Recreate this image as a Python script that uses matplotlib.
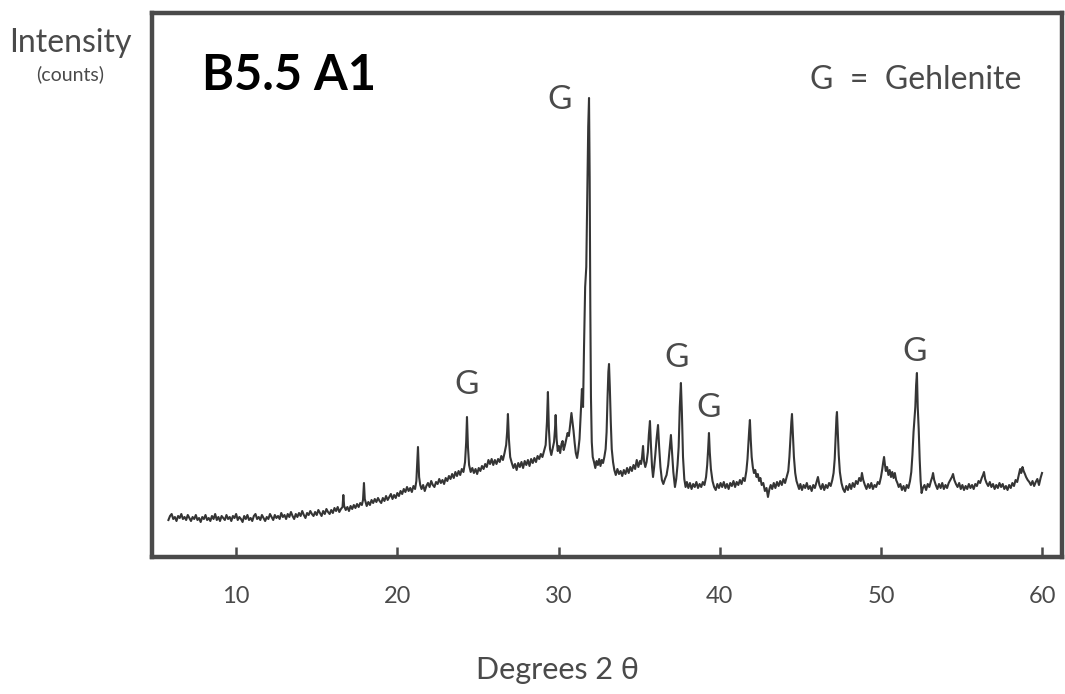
import matplotlib
matplotlib.use("Agg")
import matplotlib.pyplot as plt

# Diffractogram of sample B5.5 A1: (2-theta in degrees, intensity in counts)
trace_low = [
    (5.8, 37), (5.9, 41), (6.0, 43), (6.1, 38), (6.2, 40), (6.3, 36), (6.4, 41),
    (6.5, 39), (6.6, 43), (6.7, 38), (6.8, 40), (6.9, 37), (7.0, 42), (7.1, 39),
    (7.2, 36), (7.3, 40), (7.4, 38), (7.5, 42), (7.6, 37), (7.7, 39), (7.8, 35),
    (7.9, 40), (8.0, 38), (8.1, 42), (8.2, 37), (8.3, 39), (8.4, 36), (8.5, 41),
    (8.6, 38), (8.7, 43), (8.8, 37), (8.9, 40), (9.0, 36), (9.1, 41), (9.2, 39),
    (9.3, 37), (9.4, 42), (9.5, 38), (9.6, 40), (9.7, 36), (9.8, 41), (9.9, 39),
    (10.0, 43), (10.1, 37), (10.2, 40), (10.3, 38), (10.4, 35), (10.5, 41),
    (10.6, 38), (10.7, 42), (10.8, 37), (10.9, 39), (11.0, 36), (11.1, 41),
    (11.2, 43), (11.3, 38), (11.4, 40), (11.5, 37), (11.6, 42), (11.7, 39),
    (11.8, 36), (11.9, 40), (12.0, 38), (12.1, 43), (12.2, 40), (12.3, 37),
    (12.4, 42), (12.5, 39), (12.6, 41), (12.7, 38), (12.8, 44), (12.9, 40),
    (13.0, 42), (13.1, 38), (13.2, 43), (13.3, 40), (13.4, 45), (13.5, 41),
    (13.6, 38), (13.7, 43), (13.8, 40), (13.9, 44), (14.0, 41), (14.1, 46),
    (14.2, 42), (14.3, 39), (14.4, 44), (14.5, 42), (14.6, 46), (14.7, 43),
    (14.8, 41), (14.9, 45), (15.0, 42), (15.1, 47), (15.2, 44), (15.3, 41),
    (15.4, 46), (15.5, 43), (15.6, 48), (15.7, 45), (15.8, 43), (15.9, 47),
    (16.0, 44), (16.1, 49), (16.2, 46), (16.3, 50), (16.4, 45), (16.5, 48),
    (16.6, 50), (16.65, 62), (16.7, 51), (16.8, 47), (16.9, 50), (17.0, 46),
    (17.1, 51), (17.2, 48), (17.3, 52), (17.4, 49), (17.5, 53), (17.6, 50),
    (17.7, 54), (17.8, 52), (17.87, 57), (17.93, 74), (17.98, 58), (18.05, 54),
    (18.1, 51), (18.2, 55), (18.3, 52), (18.4, 57), (18.5, 54), (18.6, 58),
    (18.7, 55), (18.8, 59), (18.9, 56), (19.0, 54), (19.1, 59), (19.2, 56),
    (19.3, 61), (19.4, 57), (19.5, 60), (19.6, 63), (19.7, 58), (19.8, 62),
    (19.9, 59), (20.0, 64), (20.1, 61), (20.2, 66), (20.3, 63), (20.4, 68),
    (20.5, 65), (20.6, 70), (20.7, 66), (20.8, 69), (20.9, 65), (21.0, 71),
    (21.1, 68), (21.18, 76), (21.28, 110), (21.35, 80), (21.42, 72), (21.5, 68),
    (21.6, 72), (21.7, 66), (21.8, 71), (21.9, 74), (22.0, 70), (22.1, 76),
    (22.2, 72), (22.3, 70), (22.4, 75), (22.5, 73), (22.6, 78), (22.7, 74),
    (22.8, 77), (22.9, 73), (23.0, 79), (23.1, 76), (23.2, 81), (23.3, 78),
    (23.4, 83), (23.5, 79), (23.6, 85), (23.7, 81), (23.8, 86), (23.9, 82),
    (24.0, 88), (24.1, 85), (24.2, 95), (24.27, 115), (24.32, 140), (24.38, 110),
    (24.45, 92), (24.55, 85), (24.65, 89), (24.75, 84), (24.85, 88), (24.95, 83),
]

trace_mid = [
    (25.05, 89), (25.15, 86), (25.25, 91), (25.35, 88), (25.45, 93), (25.55, 90),
    (25.65, 97), (25.75, 93), (25.85, 98), (25.95, 92), (26.05, 97), (26.15, 93),
    (26.25, 98), (26.35, 95), (26.45, 101), (26.55, 97), (26.65, 104), (26.75, 112),
    (26.81, 125), (26.86, 143), (26.92, 118), (27.0, 100), (27.1, 94), (27.2, 89),
    (27.3, 93), (27.4, 87), (27.5, 94), (27.6, 90), (27.7, 95), (27.8, 89),
    (27.9, 96), (28.0, 92), (28.1, 97), (28.2, 91), (28.3, 98), (28.4, 94),
    (28.5, 99), (28.6, 95), (28.7, 101), (28.8, 98), (28.9, 103), (29.0, 100),
    (29.1, 106), (29.2, 112), (29.28, 135), (29.34, 165), (29.4, 128), (29.47, 108),
    (29.55, 102), (29.63, 108), (29.72, 115), (29.78, 128), (29.82, 142), (29.88, 118),
    (29.95, 106), (30.02, 111), (30.1, 104), (30.18, 113), (30.25, 116), (30.32, 107),
    (30.4, 112), (30.48, 118), (30.56, 124), (30.64, 121), (30.72, 132), (30.8, 144),
    (30.86, 136), (30.93, 126), (31.0, 114), (31.07, 104), (31.15, 99), (31.22, 106),
    (31.3, 118), (31.38, 145), (31.45, 168), (31.52, 150), (31.58, 210), (31.65, 270),
    (31.72, 290), (31.78, 360), (31.84, 430), (31.89, 459), (31.93, 380), (31.97, 250),
    (32.01, 160), (32.06, 115), (32.12, 100), (32.2, 95), (32.28, 89), (32.36, 96),
    (32.44, 92), (32.52, 98), (32.6, 91), (32.68, 97), (32.76, 94), (32.84, 100),
    (32.92, 108), (32.98, 125), (33.04, 160), (33.09, 185), (33.13, 193), (33.18, 170),
    (33.24, 135), (33.3, 108), (33.38, 95), (33.46, 87), (33.55, 82), (33.65, 88),
    (33.75, 83), (33.85, 86), (33.95, 81), (34.05, 87), (34.15, 83), (34.25, 89),
    (34.35, 84), (34.45, 90), (34.55, 86), (34.65, 92), (34.75, 88), (34.85, 97),
    (34.95, 90), (35.05, 96), (35.12, 93), (35.18, 100), (35.24, 111), (35.3, 96),
    (35.38, 90), (35.46, 95), (35.54, 105), (35.6, 122), (35.67, 136), (35.73, 112),
    (35.8, 90), (35.86, 80), (35.93, 90), (36.0, 102), (36.08, 118), (36.17, 132),
    (36.24, 110), (36.32, 90), (36.41, 77), (36.5, 73), (36.6, 78), (36.7, 82),
    (36.8, 92), (36.9, 110), (36.97, 122), (37.04, 105), (37.12, 85), (37.22, 70),
    (37.3, 78), (37.38, 92), (37.45, 110), (37.52, 150), (37.59, 174), (37.65, 145),
    (37.72, 100), (37.8, 78), (37.88, 70), (37.96, 75), (38.05, 69), (38.15, 74),
    (38.25, 68), (38.35, 73), (38.45, 70), (38.55, 75), (38.65, 69), (38.75, 73),
    (38.85, 70), (38.95, 75), (39.05, 72), (39.15, 80), (39.22, 92), (39.28, 108),
    (39.33, 124), (39.38, 105), (39.45, 88), (39.55, 76), (39.65, 70), (39.75, 67),
    (39.85, 73), (39.95, 69),
]

trace_high = [
    (40.05, 74), (40.15, 70), (40.25, 75), (40.35, 69), (40.45, 73), (40.55, 68),
    (40.65, 74), (40.75, 71), (40.85, 76), (40.95, 70), (41.05, 75), (41.15, 72),
    (41.25, 77), (41.35, 73), (41.45, 79), (41.55, 76), (41.65, 86), (41.72, 98),
    (41.78, 115), (41.83, 128), (41.87, 137), (41.92, 118), (41.98, 100), (42.05, 90),
    (42.12, 84), (42.2, 87), (42.28, 80), (42.36, 83), (42.44, 76), (42.52, 79),
    (42.6, 72), (42.7, 74), (42.8, 66), (42.9, 69), (42.99, 60), (43.08, 68),
    (43.16, 72), (43.25, 68), (43.35, 74), (43.45, 69), (43.55, 75), (43.65, 71),
    (43.75, 76), (43.85, 72), (43.95, 78), (44.05, 74), (44.15, 80), (44.25, 86),
    (44.32, 100), (44.38, 118), (44.44, 135), (44.48, 143), (44.53, 125), (44.6, 100),
    (44.68, 84), (44.76, 76), (44.84, 72), (44.92, 68), (45.0, 73), (45.1, 67),
    (45.2, 72), (45.3, 69), (45.4, 74), (45.5, 68), (45.6, 71), (45.7, 66),
    (45.8, 72), (45.9, 69), (46.0, 75), (46.09, 80), (46.18, 72), (46.28, 68),
    (46.38, 73), (46.48, 67), (46.58, 72), (46.68, 69), (46.78, 74), (46.88, 71),
    (46.98, 77), (47.06, 84), (47.13, 98), (47.19, 122), (47.24, 140), (47.27, 145),
    (47.32, 125), (47.38, 102), (47.45, 85), (47.55, 74), (47.65, 68), (47.75, 65),
    (47.85, 71), (47.95, 67), (48.05, 73), (48.15, 68), (48.25, 74), (48.35, 70),
    (48.45, 76), (48.55, 73), (48.65, 79), (48.75, 76), (48.82, 84), (48.9, 77),
    (49.0, 72), (49.1, 68), (49.2, 73), (49.3, 69), (49.4, 74), (49.5, 68),
    (49.6, 72), (49.7, 70), (49.8, 75), (49.9, 73), (50.0, 80), (50.08, 88),
    (50.14, 95), (50.19, 100), (50.24, 93), (50.3, 86), (50.38, 90), (50.46, 82),
    (50.54, 87), (50.62, 80), (50.7, 85), (50.78, 79), (50.86, 84), (50.94, 77),
    (51.02, 74), (51.1, 70), (51.2, 73), (51.3, 67), (51.4, 71), (51.5, 66),
    (51.6, 72), (51.7, 69), (51.8, 76), (51.88, 85), (51.95, 102), (52.02, 125),
    (52.08, 138), (52.13, 150), (52.18, 172), (52.23, 184), (52.28, 150), (52.34, 128),
    (52.4, 98), (52.46, 76), (52.52, 64), (52.6, 69), (52.7, 72), (52.8, 67),
    (52.9, 73), (53.0, 70), (53.1, 76), (53.18, 80), (53.23, 84), (53.3, 77),
    (53.4, 72), (53.5, 68), (53.6, 73), (53.7, 69), (53.8, 74), (53.9, 68),
    (54.0, 72), (54.1, 69), (54.2, 74), (54.3, 77), (54.4, 80), (54.47, 83),
    (54.55, 77), (54.65, 73), (54.75, 70), (54.85, 74), (54.95, 68), (55.05, 72),
    (55.15, 67), (55.25, 71), (55.35, 68), (55.45, 73), (55.55, 69), (55.65, 72),
    (55.75, 68), (55.85, 73), (55.95, 71), (56.05, 76), (56.15, 74), (56.25, 79),
    (56.33, 82), (56.39, 85), (56.46, 78), (56.55, 74), (56.65, 71), (56.75, 75),
    (56.85, 70), (56.95, 73), (57.05, 68), (57.15, 72), (57.25, 69), (57.35, 74),
    (57.45, 70), (57.55, 73), (57.65, 68), (57.75, 71), (57.85, 67), (57.95, 72),
    (58.05, 69), (58.15, 74), (58.25, 71), (58.35, 77), (58.45, 75), (58.55, 82),
    (58.63, 88), (58.7, 84), (58.78, 90), (58.85, 86), (58.93, 83), (59.0, 80),
    (59.1, 77), (59.2, 75), (59.3, 72), (59.4, 76), (59.5, 71), (59.6, 75),
    (59.7, 78), (59.8, 72), (59.9, 79), (59.99, 84),
]

# Gehlenite reflections marked with "G"
g_label_theta = [24.32, 30.09, 37.34, 39.33, 52.11]
g_label_counts = [172, 457, 199, 149, 205]

x_ticks = [10, 20, 30, 40, 50, 60]

ink = "#4a4a4a"
font = ["Lato", "DejaVu Sans"]

trace = trace_low + trace_mid + trace_high
two_theta = [p[0] for p in trace]
counts = [p[1] for p in trace]

fig = plt.figure(figsize=(10.65, 6.94), dpi=100)
ax = fig.add_axes([0.1427, 0.1974, 0.8545, 0.7839])

ax.plot(two_theta, counts, color="#353535", lw=1.5)

ax.set_xlim(4.78, 61.23)
ax.set_ylim(0, 544)

for side in ("left", "right", "top", "bottom"):
    ax.spines[side].set_linewidth(3.2)
    ax.spines[side].set_color(ink)

ax.set_xticks(x_ticks)
ax.set_xticklabels([str(t) for t in x_ticks], family=font, fontsize=17, color=ink)
ax.tick_params(axis="x", direction="in", length=7, width=1.8, color=ink, pad=21)
ax.set_yticks([])

for x, y in zip(g_label_theta, g_label_counts):
    ax.text(x, y, "G", ha="center", va="center", fontsize=24, color=ink, family=font)

ax.text(0.055, 0.885, "B5.5 A1", transform=ax.transAxes, fontsize=35,
        fontweight="bold", color="black", family=font, va="center", ha="left")
ax.text(0.955, 0.876, "G  =  Gehlenite", transform=ax.transAxes, fontsize=23,
        color=ink, family=font, va="center", ha="right")

fig.text(70 / 1065, 1 - 43 / 694, "Intensity", fontsize=23, color=ink,
         family=font, ha="center", va="center")
fig.text(70 / 1065, 1 - 74 / 694, "(counts)", fontsize=14, color=ink,
         family=font, ha="center", va="center")
fig.text(558 / 1065, 1 - 670 / 694, "Degrees 2 \u03b8", fontsize=22, color=ink,
         family=font, ha="center", va="center")

fig.savefig("out.png", dpi=100)
